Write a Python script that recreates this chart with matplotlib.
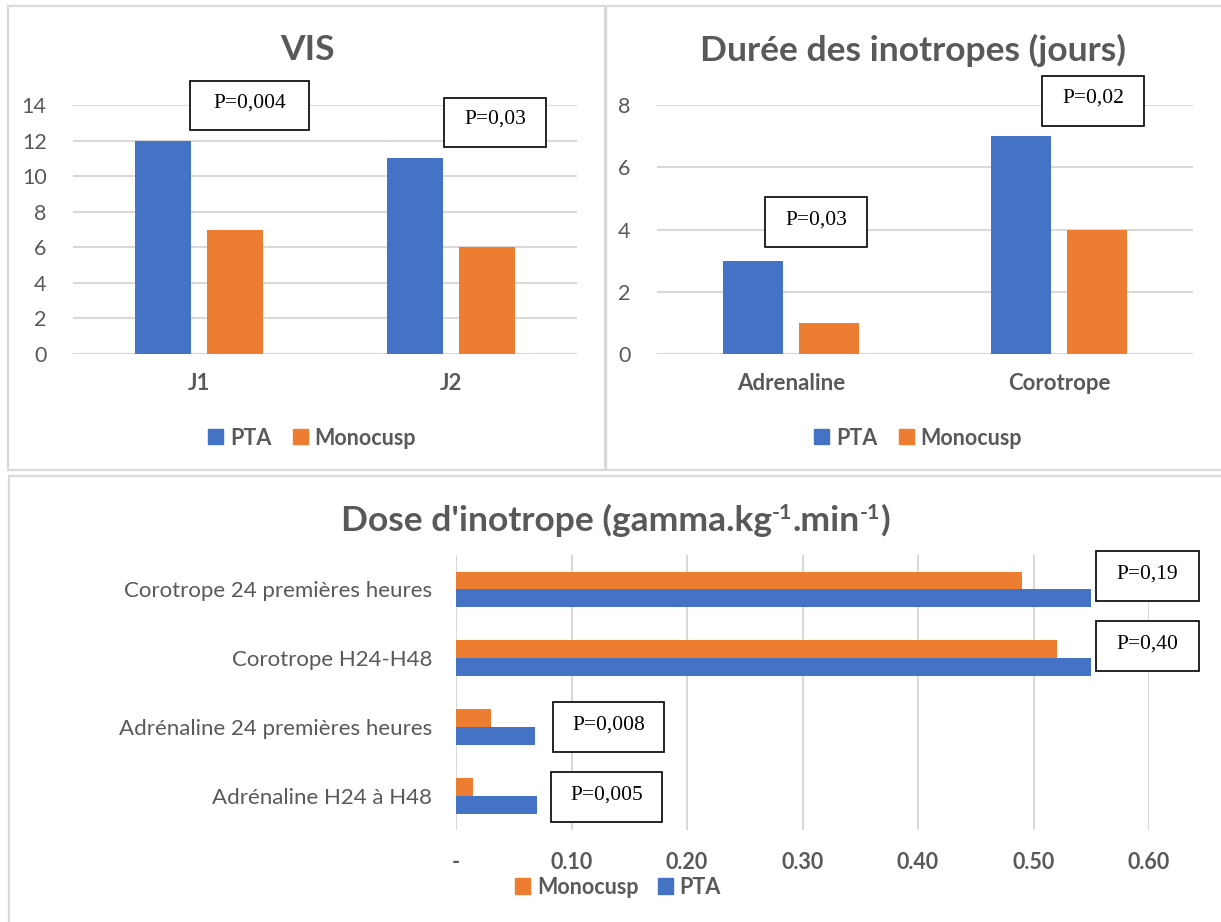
import matplotlib
matplotlib.use("Agg")
import matplotlib.pyplot as plt
from matplotlib.patches import Rectangle, Patch
import numpy as np

# ---------------- data ----------------
vis_categories = ["J1", "J2"]
vis_pta = [12, 11]
vis_mono = [7, 6]
vis_pvalues = ["P=0,004", "P=0,03"]

dur_categories = ["Adrenaline", "Corotrope"]
dur_pta = [3, 7]
dur_mono = [1, 4]
dur_pvalues = ["P=0,03", "P=0,02"]

dose_categories = ["Corotrope 24 premières heures", "Corotrope H24-H48",
                   "Adrénaline 24 premières heures", "Adrénaline H24 à H48"]
dose_mono = [0.49, 0.52, 0.03, 0.015]
dose_pta = [0.55, 0.55, 0.068, 0.07]
dose_pvalues = ["P=0,19", "P=0,40", "P=0,008", "P=0,005"]
dose_xticks = [0.0, 0.1, 0.2, 0.3, 0.4, 0.5, 0.6]
dose_xticklabels = ["-", "0.10", "0.20", "0.30", "0.40", "0.50", "0.60"]

# ---------------- style ----------------
BLUE = "#4472C4"
ORANGE = "#ED7D31"
GRID = "#D9D9D9"
TXT = "#595959"
FONT = ["Lato", "DejaVu Sans"]
SERIF = ["Liberation Serif", "DejaVu Serif"]
plt.rcParams["font.family"] = FONT

TICK_FS = 15.5
CAT_FS = 16
LEG_FS = 15.5
TITLE_FS = 25.5

W, H = 1221, 922
fig = plt.figure(figsize=(W / 100, H / 100), dpi=100)


def ax_px(x0, x1, y0, y1):
    return fig.add_axes([x0 / W, 1 - y1 / H, (x1 - x0) / W, (y1 - y0) / H])


def frame_px(x0, x1, y0, y1):
    fig.patches.append(Rectangle((x0 / W, 1 - y1 / H), (x1 - x0) / W, (y1 - y0) / H,
                                 transform=fig.transFigure, fill=False,
                                 edgecolor=GRID, linewidth=1.6))


def pbox(x0, x1, y0, y1, text, ty=None):
    fig.patches.append(Rectangle((x0 / W, 1 - y1 / H), (x1 - x0) / W, (y1 - y0) / H,
                                 transform=fig.transFigure, facecolor="white",
                                 edgecolor="black", linewidth=1.2, zorder=5))
    if ty is None:
        ty = (y0 + y1) / 2 - 3
    fig.text((x0 + x1) / 2 / W, 1 - ty / H, text, family=SERIF, fontsize=15.5,
             color="black", ha="center", va="center", zorder=6)


# panel frames
frame_px(8, 605, 6, 470)
frame_px(606, 1230, 6, 470)
frame_px(9, 1230, 476, 930)


def column_panel(ax, cats, pta, mono, ymax, title, title_x):
    x = np.arange(len(cats))
    off, bw = 0.143, 0.225
    ax.bar(x - off, pta, bw, color=BLUE, zorder=3, label="PTA")
    ax.bar(x + off, mono, bw, color=ORANGE, zorder=3, label="Monocusp")
    ax.set_xlim(-0.5, len(cats) - 0.5)
    ax.set_ylim(0, ymax)
    ax.set_yticks(np.arange(0, ymax + 1, 2))
    ax.yaxis.grid(True, color=GRID, linewidth=1.5, zorder=0)
    for s in ax.spines.values():
        s.set_visible(False)
    ax.tick_params(axis="both", length=0, colors=TXT)
    ax.tick_params(axis="y", labelsize=TICK_FS, pad=19)
    ax.set_xticks(x)
    ax.set_xticklabels(cats, fontsize=CAT_FS, fontweight="bold", color=TXT)
    ax.tick_params(axis="x", pad=14)
    for lab in ax.get_yticklabels():
        lab.set_color(TXT)
    fig.text(title_x / W, 1 - 50 / H, title, fontsize=TITLE_FS, fontweight="bold",
             color=TXT, ha="center", va="center")


ax1 = ax_px(73, 577, 105, 354)
column_panel(ax1, vis_categories, vis_pta, vis_mono, 14, "VIS", 307)
ax2 = ax_px(657, 1193, 105, 354)
column_panel(ax2, dur_categories, dur_pta, dur_mono, 8, "Durée des inotropes (jours)", 913)

leg_handles = [Patch(color=BLUE, label="PTA"), Patch(color=ORANGE, label="Monocusp")]
for cx in (312, 918):
    lg = fig.legend(handles=leg_handles, loc="center", bbox_to_anchor=(cx / W, 1 - 438 / H),
                    ncol=2, frameon=False, handlelength=0.7,
                    handleheight=0.7, handletextpad=0.3, columnspacing=1.0,
                    prop={"weight": "bold", "size": LEG_FS})
    for tx in lg.get_texts():
        tx.set_color(TXT)

# p-value boxes top
pbox(190, 309, 81, 130, vis_pvalues[0], ty=103)
pbox(444, 546, 98, 147, vis_pvalues[1], ty=119)
pbox(765, 867, 197, 247, dur_pvalues[0], ty=220)
pbox(1042, 1144, 76, 126, dur_pvalues[1], ty=98)

# ---------------- bottom horizontal bar chart ----------------
ax3 = ax_px(456, 1149, 555, 830)
y = np.arange(len(dose_categories))
bh = 0.26
ax3.barh(y - bh / 2, dose_mono, bh, color=ORANGE, zorder=3, label="Monocusp")
ax3.barh(y + bh / 2, dose_pta, bh, color=BLUE, zorder=3, label="PTA")
ax3.set_ylim(len(dose_categories) - 0.5, -0.5)
ax3.set_xlim(0, 0.6)
ax3.set_xticks(dose_xticks)
ax3.set_xticklabels(dose_xticklabels, fontsize=TICK_FS, fontweight="bold", color=TXT)
ax3.set_yticks(y)
ax3.set_yticklabels(dose_categories, fontsize=CAT_FS, color=TXT)
ax3.xaxis.grid(True, color=GRID, linewidth=1.5, zorder=0)
for s in ax3.spines.values():
    s.set_visible(False)
ax3.tick_params(axis="both", length=0)
ax3.tick_params(axis="x", pad=16)
ax3.tick_params(axis="y", pad=17)

# title with superscripts built from pieces
renderer = fig.canvas.get_renderer()
pieces = [("Dose d'inotrope (gamma.kg", False), ("-1", True), (".min", False),
          ("-1", True), (")", False)]
tx_objs = []
widths = []
for s, sup in pieces:
    t = fig.text(0, 0, s, fontsize=TITLE_FS * (0.6 if sup else 1.0), fontweight="bold",
                 color=TXT, ha="left", va="baseline")
    widths.append(t.get_window_extent(renderer).width)
    tx_objs.append((t, sup))
total = sum(widths)
xstart = 615 - total / 2
base_y = 531
xc = xstart
for (t, sup), w in zip(tx_objs, widths):
    yy = base_y - (12 if sup else 0)
    t.set_position((xc / W, 1 - yy / H))
    xc += w

leg3 = fig.legend(handles=[Patch(color=ORANGE, label="Monocusp"), Patch(color=BLUE, label="PTA")],
                  loc="center", bbox_to_anchor=(618 / W, 1 - 887 / H), ncol=2, frameon=False,
                  handlelength=0.7, handleheight=0.7, handletextpad=0.3, columnspacing=0.9,
                  prop={"weight": "bold", "size": LEG_FS})
for tx in leg3.get_texts():
    tx.set_color(TXT)

pbox(1096, 1199, 551, 601, dose_pvalues[0], ty=574)
pbox(1096, 1199, 621, 671, dose_pvalues[1], ty=644)
pbox(553, 664, 702, 752, dose_pvalues[2], ty=725)
pbox(551, 662, 772, 822, dose_pvalues[3], ty=795)

fig.savefig("out.png", dpi=100, facecolor="white")
